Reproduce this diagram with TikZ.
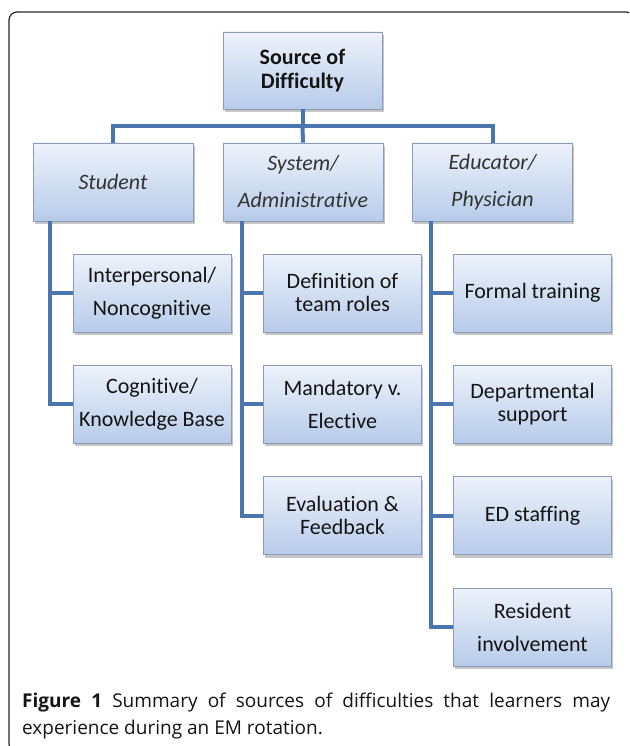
\documentclass[tikz,border=0pt]{standalone}
\usepackage{fontspec}
\setmainfont{Carlito}[Ligatures=NoCommon]
\newfontfamily\capfont{Open Sans}
\usepackage[HTML]{xcolor}
\usetikzlibrary{shadows}

\definecolor{linkblue}{HTML}{4A76B0}
\definecolor{boxtop}{HTML}{EDF2FB}
\definecolor{boxbot}{HTML}{B7CBEA}
\definecolor{boxline}{HTML}{8A9AB8}

\tikzset{
  box/.style={rectangle, draw=boxline, line width=0.8pt, top color=boxtop, bottom color=boxbot,
    align=center, minimum width=158pt, minimum height=78pt, inner sep=2pt, text=black!92,
    drop shadow={shadow xshift=1.5pt, shadow yshift=-3pt, opacity=0.45}},
  rootbox/.style={box, font=\fontsize{22}{24}\selectfont\bfseries},
  groupbox/.style={box, minimum width=160pt, text=black!80, font=\fontsize{22}{37}\selectfont\itshape},
  leafbox/.style={box, font=\fontsize{22}{33}\selectfont},
  tight/.style={font=\fontsize{22}{23}\selectfont},
  link/.style={draw=linkblue, line width=4pt},
}

\begin{document}
\begin{tikzpicture}[x=1pt,y=-1pt]
\useasboundingbox (0,0) rectangle (629,746);
\clip (0,0) rectangle (629,746);
% frame
\draw[rounded corners=8pt, line width=1.2pt, black!85] (634,760) -- (634,12) -- (9,12) -- (9,752) -- (40,752);
% root and groups
\node[rootbox, minimum width=159pt, minimum height=77pt] (src) at (302.5,70.5) {Source of\\Difficulty};
\node[groupbox] (stu) at (113,182) {Student};
\node[groupbox] (sys) at (303,182) {System/\\Administrative};
\node[groupbox] (edu) at (492.5,182) {Educator/\\Physician};
% student
\node[leafbox] (stu1) at (152,293) {Interpersonal/\\Noncognitive};
\node[leafbox] (stu2) at (152,404) {Cognitive/\\Knowledge Base};
% system
\node[leafbox, tight] (sys1) at (342.5,293) {Definition of\\team roles};
\node[leafbox] (sys2) at (342.5,404) {Mandatory v.\\Elective};
\node[leafbox, tight] (sys3) at (342.5,515.5) {Evaluation \&\\Feedback};
% educator
\node[leafbox] (edu1) at (532.5,293) {Formal training};
\node[leafbox, tight] (edu2) at (532.5,404) {Departmental\\support};
\node[leafbox] (edu3) at (532.5,515.5) {ED staffing};
\node[leafbox] (edu4) at (532.5,627) {Resident\\involvement};
% connectors
\draw[link] (src.south) -- ++(0,17) coordinate (bar);
\draw[link] (stu.north) |- (bar) -| (edu.north);
\draw[link] (sys.north) -- (bar);
\foreach \i in {1,2} \draw[link] ([xshift=17pt]stu.south west) |- (stu\i.west);
\foreach \i in {1,2,3} \draw[link] ([xshift=19pt]sys.south west) |- (sys\i.west);
\foreach \i in {1,...,4} \draw[link] ([xshift=19pt]edu.south west) |- (edu\i.west);
% caption
\node[anchor=base west, inner sep=0pt, text=black!92, font=\capfont\fontsize{19}{22}\selectfont] (cap1) at (22,707)
  {\makebox[588pt][s]{\textbf{Figure 1} Summary of sources of difficulties that learners may}};
\node[anchor=base west, inner sep=0pt, text=black!92, font=\capfont\fontsize{19}{22}\selectfont] (cap2) at (22,734)
  {experience during an EM rotation.};
\end{tikzpicture}
\end{document}
